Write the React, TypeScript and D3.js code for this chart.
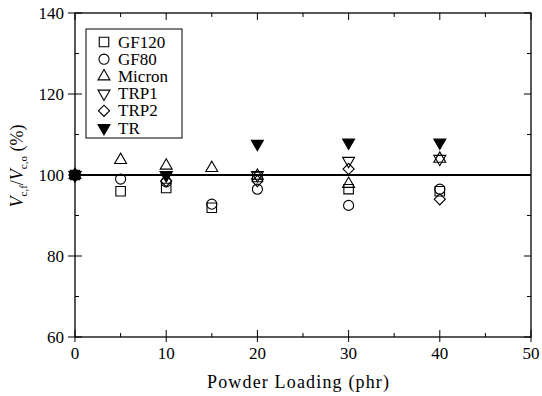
import React from "react";
import * as d3 from "d3";

const loadings = [0, 5, 10, 15, 20, 30, 40];
const gf120 = [100, 96, 96.8, 91.9, 99.5, 96.5, 96];
const gf80 = [100, 99, 98.3, 92.8, 96.5, 92.5, 96.5];
const micron = [100, 103.7, 102.3, 101.7, 99.8, 97.8, 104];
const trLoadings = [0, 10, 20, 30, 40];
const trp1 = [100, 100, 100, 103.5, 104];
const trp2 = [100, 98.5, 98.5, 101.5, 94];
const tr = [100, 100, 107.7, 108, 108];
const xTicks = [0, 10, 20, 30, 40, 50];
const yTicks = [60, 80, 100, 120, 140];
const seriesNames = ["GF120", "GF80", "Micron", "TRP1", "TRP2", "TR"];

type Kind = "square" | "circle" | "up" | "down" | "diamond" | "downFilled";
const kinds: Kind[] = ["square", "circle", "up", "down", "diamond", "downFilled"];

const W = 542, H = 396;
const left = 75, right = 531, top = 13, bottom = 337;
const FONT = "'Liberation Serif', 'DejaVu Serif', 'Times New Roman', serif";

function markerPath(k: Kind): string {
  const sym = d3.symbol();
  if (k === "square") return sym.type(d3.symbolSquare).size(90)()!;
  if (k === "circle") return sym.type(d3.symbolCircle).size(80)()!;
  if (k === "diamond") return sym.type(d3.symbolSquare).size(62)()!;
  return sym.type(d3.symbolTriangle).size(62)()!;
}
function markerTransform(k: Kind, x: number, y: number): string {
  if (k === "diamond") return `translate(${x},${y}) rotate(45)`;
  if (k === "down" || k === "downFilled") return `translate(${x},${y}) rotate(180)`;
  return `translate(${x},${y})`;
}

export default function App() {
  const x = d3.scaleLinear().domain([0, 50]).range([left, right]);
  const y = d3.scaleLinear().domain([60, 140]).range([bottom, top]);
  const series: { name: string; kind: Kind; xs: number[]; ys: number[] }[] = [
    { name: seriesNames[0], kind: kinds[0], xs: loadings, ys: gf120 },
    { name: seriesNames[1], kind: kinds[1], xs: loadings, ys: gf80 },
    { name: seriesNames[2], kind: kinds[2], xs: loadings, ys: micron },
    { name: seriesNames[3], kind: kinds[3], xs: trLoadings, ys: trp1 },
    { name: seriesNames[4], kind: kinds[4], xs: trLoadings, ys: trp2 },
    { name: seriesNames[5], kind: kinds[5], xs: trLoadings, ys: tr },
  ];
  const xMinor = d3.range(0, 51, 5);
  const yMinor = d3.range(60, 141, 10);
  const line = d3.line<number>().x((d) => x(d)).y(() => y(100));
  const ts = { fontFamily: FONT };

  return (
    <svg width={W} height={H} style={{ position: "absolute", left: 0, top: 0, fontFamily: FONT }}>
      <rect x={0} y={0} width={W} height={H} fill="white" />
      <rect x={left} y={top} width={right - left} height={bottom - top} fill="none" stroke="black" strokeWidth={1.3} />
      {xMinor.map((t) => {
        const major = t % 10 === 0;
        const len = major ? 7 : 4;
        return (
          <g key={"xt" + t}>
            <line x1={x(t)} x2={x(t)} y1={bottom + (major ? 5 : 0)} y2={bottom - len} stroke="black" strokeWidth={1} />
            <line x1={x(t)} x2={x(t)} y1={top} y2={top + len} stroke="black" strokeWidth={1} />
          </g>
        );
      })}
      {yMinor.map((t) => {
        const major = t % 20 === 0;
        const len = major ? 7 : 4;
        return (
          <g key={"yt" + t}>
            <line x1={left - (major ? 7 : 0)} x2={left + len} y1={y(t)} y2={y(t)} stroke="black" strokeWidth={1} />
            <line x1={right} x2={right - len} y1={y(t)} y2={y(t)} stroke="black" strokeWidth={1} />
          </g>
        );
      })}
      {xTicks.map((t) => (
        <text key={"xl" + t} x={x(t)} y={359} fontSize={17} textAnchor="middle" style={ts}>{t}</text>
      ))}
      {yTicks.map((t) => (
        <text key={"yl" + t} x={64} y={y(t) + 6} fontSize={17} textAnchor="end" style={ts}>{t}</text>
      ))}
      <text x={(left + right) / 2 - 5} y={388} fontSize={18} textAnchor="middle" textLength={182} lengthAdjust="spacing" style={ts}>Powder Loading (phr)</text>
      <text transform={`translate(23,166) rotate(-90)`} fontSize={18} textAnchor="middle" style={ts}>
        <tspan fontStyle="italic">V</tspan>
        <tspan fontSize={11} dy={4}>c,f</tspan>
        <tspan dy={-4}>/</tspan>
        <tspan fontStyle="italic">V</tspan>
        <tspan fontSize={11} dy={4}>c,o</tspan>
        <tspan dy={-4}> (%)</tspan>
      </text>
      <path d={line([0, 50])!} stroke="black" strokeWidth={2} fill="none" />
      {series.map((s) => (
        <g key={s.name}>
          {s.xs.map((xv, i) => (
            <path
              key={i}
              d={markerPath(s.kind)}
              transform={markerTransform(s.kind, x(xv), y(s.ys[i]))}
              fill={s.kind === "downFilled" || xv === 0 ? "black" : "none"}
              stroke="black"
              strokeWidth={1.1}
            />
          ))}
        </g>
      ))}
      <rect x={86} y={29} width={96} height={109} fill="white" stroke="black" strokeWidth={1} />
      {series.map((s, i) => {
        const cy = 42 + i * 17.2;
        return (
          <g key={"lg" + s.name}>
            <path
              d={markerPath(s.kind)}
              transform={markerTransform(s.kind, 104, cy)}
              fill={s.kind === "downFilled" ? "black" : "none"}
              stroke="black"
              strokeWidth={1.1}
            />
            <text x={118} y={cy + 5.5} fontSize={17} style={ts}>{s.name}</text>
          </g>
        );
      })}
    </svg>
  );
}
